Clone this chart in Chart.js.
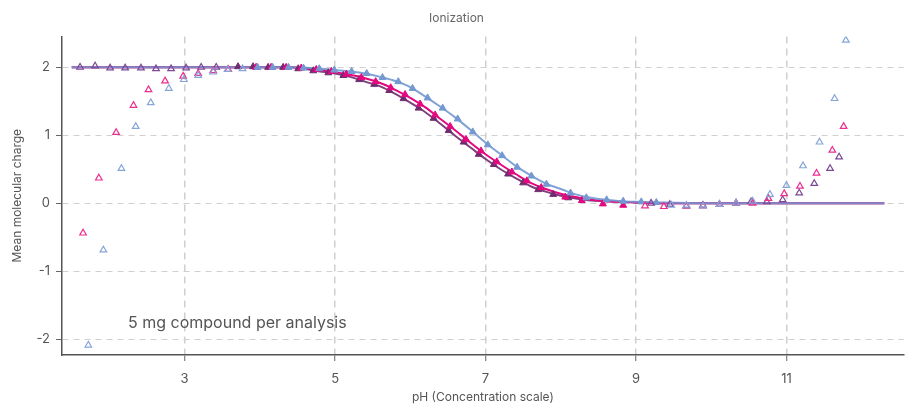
<!DOCTYPE html>
<html>
<head>
<meta charset="utf-8">
<script src="https://cdn.jsdelivr.net/npm/chart.js@4.4.1/dist/chart.umd.min.js"></script>
<style>
body{margin:0;background:#fff;}
#wrap{width:909px;height:405px;}
</style>
</head>
<body>
<div id="wrap"><canvas id="ion" width="909" height="405"></canvas></div>
<script>
// tick values
const xTicks = [3, 5, 7, 9, 11];
const yTicks = [-2, -1, 0, 1, 2];

// fitted curves (pH / mean charge)
const curvePH = [1.5, 4.0, 4.4, 4.8, 5.0, 5.2, 5.4, 5.6, 5.8, 6.0, 6.2, 6.4, 6.6, 6.8, 7.0, 7.2, 7.4, 7.6, 7.8, 8.0, 8.2, 8.4, 8.6, 8.8, 9.0, 9.4, 10.0, 12.3];
const curveBlue    = [2.00, 2.00, 2.00, 1.98, 1.96, 1.94, 1.91, 1.86, 1.80, 1.71, 1.57, 1.42, 1.26, 1.08, 0.89, 0.72, 0.55, 0.41, 0.29, 0.21, 0.13, 0.08, 0.05, 0.03, 0.02, 0.01, 0.00, 0.00];
const curveMagenta = [2.00, 2.00, 2.00, 1.96, 1.93, 1.89, 1.84, 1.77, 1.67, 1.55, 1.41, 1.24, 1.07, 0.89, 0.72, 0.57, 0.43, 0.30, 0.21, 0.14, 0.09, 0.05, 0.03, 0.02, 0.01, 0.00, 0.00, 0.00];
const curvePurple  = [2.00, 2.00, 2.00, 1.94, 1.91, 1.86, 1.79, 1.72, 1.61, 1.48, 1.34, 1.17, 0.99, 0.82, 0.65, 0.50, 0.37, 0.25, 0.17, 0.11, 0.07, 0.04, 0.03, 0.02, 0.01, 0.00, 0.00, 0.00];

// measured points inside the fit range (filled)
const fillBluePH = [3.97, 4.17, 4.38, 4.58, 4.79, 4.99, 5.22, 5.42, 5.63, 5.84, 6.03, 6.23, 6.43, 6.63, 6.83, 7.03, 7.22, 7.42, 7.61, 7.81, 8.13, 8.34, 8.61, 8.83, 9.07, 9.27];
const fillBlue   = [2.00, 2.00, 2.00, 1.99, 1.98, 1.96, 1.94, 1.91, 1.85, 1.79, 1.69, 1.55, 1.40, 1.24, 1.05, 0.86, 0.70, 0.53, 0.40, 0.28, 0.15, 0.08, 0.05, 0.03, 0.02, 0.01];
const fillMagentaPH = [3.95, 4.15, 4.35, 4.55, 4.75, 4.95, 5.15, 5.35, 5.54, 5.74, 5.93, 6.13, 6.33, 6.53, 6.74, 6.94, 7.15, 7.35, 7.55, 7.74, 8.06, 8.28, 8.56, 8.83];
const fillMagenta   = [2.00, 2.00, 2.00, 1.99, 1.97, 1.94, 1.90, 1.85, 1.79, 1.70, 1.60, 1.46, 1.30, 1.13, 0.94, 0.77, 0.61, 0.46, 0.33, 0.23, 0.09, 0.04, -0.01, -0.03];
const fillPurplePH = [3.71, 3.91, 4.11, 4.31, 4.51, 4.71, 4.91, 5.11, 5.32, 5.52, 5.72, 5.91, 6.11, 6.31, 6.51, 6.71, 6.91, 7.11, 7.30, 7.50, 7.70, 7.90, 8.10];
const fillPurple   = [2.01, 2.01, 2.00, 2.00, 1.98, 1.95, 1.92, 1.88, 1.82, 1.75, 1.66, 1.54, 1.40, 1.25, 1.07, 0.90, 0.72, 0.57, 0.43, 0.30, 0.20, 0.13, 0.08];

// measured points outside the fit range (open)
const openBluePH = [1.72, 1.92, 2.16, 2.35, 2.55, 2.79, 2.99, 3.18, 3.38, 3.57, 3.77, 9.47, 9.67, 9.89, 10.11, 10.33, 10.55, 10.78, 11.00, 11.22, 11.44, 11.64, 11.79];
const openBlue   = [-2.09, -0.69, 0.51, 1.13, 1.48, 1.69, 1.82, 1.88, 1.93, 1.97, 1.98, -0.03, -0.03, -0.04, -0.02, 0.00, 0.03, 0.13, 0.26, 0.55, 0.90, 1.54, 2.40];
const openMagentaPH = [1.65, 1.86, 2.09, 2.32, 2.52, 2.74, 2.98, 3.18, 3.38, 3.58, 9.12, 9.37, 9.67, 9.89, 10.11, 10.33, 10.55, 10.76, 10.97, 11.18, 11.40, 11.61, 11.76];
const openMagenta   = [-0.44, 0.37, 1.04, 1.44, 1.67, 1.80, 1.87, 1.91, 1.95, 1.97, -0.04, -0.05, -0.04, -0.04, -0.02, 0.00, 0.00, 0.07, 0.14, 0.25, 0.44, 0.78, 1.13];
const openPurplePH = [1.61, 1.81, 2.01, 2.21, 2.42, 2.62, 2.82, 3.02, 3.22, 3.42, 9.20, 9.45, 9.67, 9.89, 10.11, 10.33, 10.53, 10.74, 10.95, 11.17, 11.37, 11.58, 11.70];
const openPurple   = [2.00, 2.02, 1.99, 1.99, 1.99, 1.98, 1.98, 1.99, 2.00, 2.00, 0.00, -0.02, -0.04, -0.03, -0.02, 0.00, 0.02, 0.02, 0.05, 0.15, 0.29, 0.51, 0.68];

const BLUE = '#7398d2', MAGENTA = '#e4087f', PURPLE = '#6f2d6f';

function pts(xs, ys){ return xs.map((x, i) => ({x: x, y: ys[i]})); }

function curve(label, xs, ys, col){
  return {type:'line', label, data: pts(xs, ys), borderColor: col, borderWidth: 2,
    pointRadius: 0, cubicInterpolationMode: 'monotone', fill: false};
}
function filled(label, xs, ys, col){
  return {type:'scatter', label, data: pts(xs, ys), pointStyle:'triangle', pointRadius: 4,
    backgroundColor: col, borderColor: col, borderWidth: 1};
}
function open(label, xs, ys, col){
  return {type:'scatter', label, data: pts(xs, ys), pointStyle:'triangle', pointRadius: 3.8,
    backgroundColor: 'rgba(255,255,255,0)', borderColor: col, borderWidth: 1.2};
}

const note = {
  id: 'note',
  afterDraw(chart){
    const ctx = chart.ctx;
    ctx.save();
    ctx.font = '16px Inter';
    ctx.fillStyle = '#555';
    ctx.textBaseline = 'middle';
    ctx.fillText('5 mg compound per analysis', 128, 323);
    ctx.restore();
  }
};

new Chart(document.getElementById('ion'), {
  data: {
    datasets: [
      open('blue open', openBluePH, openBlue, '#86a6da'),
      open('magenta open', openMagentaPH, openMagenta, '#ea2f8f'),
      open('purple open', openPurplePH, openPurple, '#7b4996'),
      filled('blue', fillBluePH, fillBlue, BLUE),
      filled('magenta', fillMagentaPH, fillMagenta, MAGENTA),
      filled('purple', fillPurplePH, fillPurple, PURPLE),
      curve('blue fit', curvePH, curveBlue, 'rgba(115,152,210,0.9)'),
      curve('magenta fit', curvePH, curveMagenta, MAGENTA),
      curve('purple fit', curvePH, curvePurple, 'rgba(111,45,111,0.9)')
    ]
  },
  options: {
    responsive: false,
    animation: false,
    layout: {padding: {left: 6, right: 2, top: 0, bottom: 0}},
    plugins: {
      legend: {display: false},
      tooltip: {enabled: false},
      title: {display: true, text: 'Ionization', color: '#666',
        font: {family: 'Inter', size: 12, weight: 'normal'}, padding: {top: 11, bottom: 11}}
    },
    scales: {
      x: {
        type: 'linear', min: 1.37, max: 12.56,
        afterBuildTicks: s => { s.ticks = xTicks.map(v => ({value: v})); },
        afterFit: s => { s.height = 50; },
        grid: {color: '#cfcfcf', lineWidth: 1.5, tickLength: 6, tickColor: '#666', tickWidth: 1},
        border: {color: '#555', width: 1.5, dash: [7, 5]},
        ticks: {color: '#555', padding: 10, font: {family: 'Inter', size: 13}},
        title: {display: true, text: 'pH (Concentration scale)', color: '#555',
          font: {family: 'Inter', size: 12}, padding: {top: 4, bottom: 0}}
      },
      y: {
        type: 'linear', min: -2.235, max: 2.456,
        afterBuildTicks: s => { s.ticks = yTicks.map(v => ({value: v})); },
        afterFit: s => { s.width = 56; },
        grid: {color: '#d0d0d0', lineWidth: 1, tickLength: 6, tickColor: '#666'},
        border: {color: '#555', width: 1.5, dash: [6, 5]},
        ticks: {color: '#555', padding: 6, font: {family: 'Inter', size: 13}},
        title: {display: true, text: 'Mean molecular charge', color: '#555',
          font: {family: 'Inter', size: 12}, padding: {top: 4, bottom: 4}}
      }
    }
  },
  plugins: [note]
});
</script>
</body>
</html>
